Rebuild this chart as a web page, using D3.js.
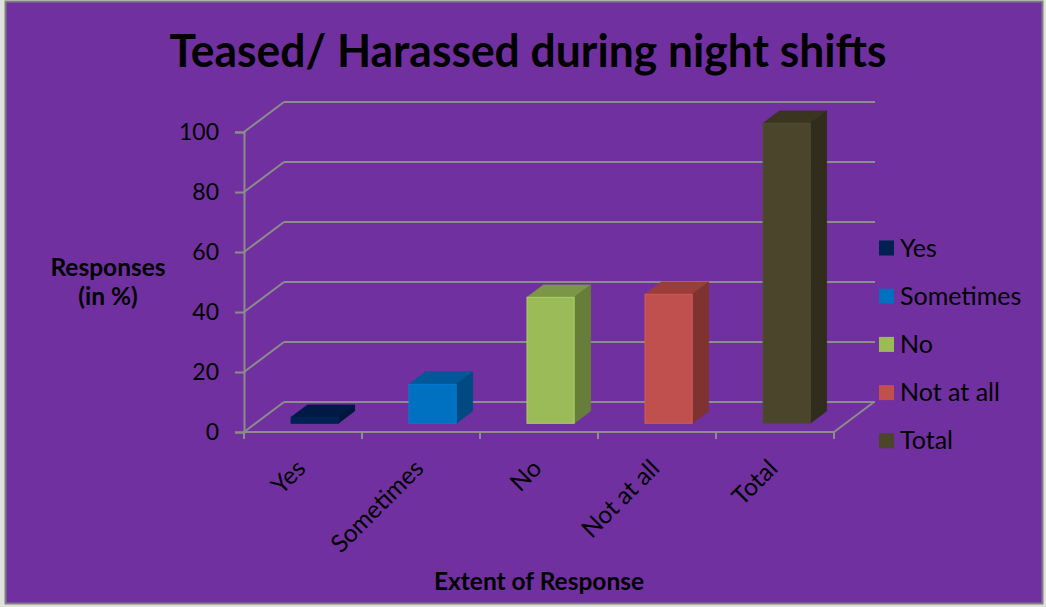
<!DOCTYPE html>
<html><head><meta charset="utf-8">
<script src="https://cdn.jsdelivr.net/npm/d3@7/dist/d3.min.js"></script>
<style>html,body{margin:0;padding:0;background:#dfe2dc;}svg{display:block;}</style>
</head><body>
<svg id="chart" width="1046" height="607"></svg>
<script>
// ---- data ----
const categories = ["Yes", "Sometimes", "No", "Not at all", "Total"];
const values = [2, 13, 42, 43, 100];
const yTicks = [0, 20, 40, 60, 80, 100];
const frontColors = ["#002152", "#0070C0", "#9BBB59", "#C0504D", "#4A452B"];
const topColors   = ["#001A45", "#005899", "#7A9646", "#9A3E3B", "#3A3521"];
const sideColors  = ["#00163A", "#004A82", "#677E3A", "#7E3331", "#302D1C"];
const titleText = "Teased/ Harassed during night shifts";
const yTitle = ["Responses", "(in %)"];
const xTitle = "Extent of Response";

const svg = d3.select("#chart");
const font = "Lato, 'Open Sans', sans-serif";
const gridColor = "#8c8c8c";

// background
svg.append("rect").attr("x", 5.5).attr("y", 1.5).attr("width", 1037).attr("height", 602)
  .attr("fill", "#7030A0").attr("stroke", "#7f7f7f").attr("stroke-width", 2);

// scales
const x = d3.scaleBand().domain(categories).range([244, 834]).paddingInner(0.6).paddingOuter(0.3);
const y = d3.scaleLinear().domain([0, 100]).range([432, 132]);
const depth = [40, -30];           // full depth vector of the floor/wall
const d1 = 0.29, d2 = 0.70;        // bar front/back depth fraction
const backRight = 875;

const g = svg.append("g");

// back-wall gridlines and left-wall diagonals
yTicks.forEach(v => {
  g.append("line").attr("x1", x.range()[0] + depth[0]).attr("x2", backRight)
    .attr("y1", y(v) + depth[1]).attr("y2", y(v) + depth[1])
    .attr("stroke", gridColor).attr("stroke-width", 2);
  g.append("line").attr("x1", x.range()[0]).attr("y1", y(v))
    .attr("x2", x.range()[0] + depth[0]).attr("y2", y(v) + depth[1])
    .attr("stroke", gridColor).attr("stroke-width", 2);
});
// floor front edge and right diagonal
g.append("line").attr("x1", x.range()[0]).attr("x2", x.range()[1]).attr("y1", y(0)).attr("y2", y(0))
  .attr("stroke", gridColor).attr("stroke-width", 2);
g.append("line").attr("x1", x.range()[1]).attr("y1", y(0))
  .attr("x2", x.range()[1] + depth[0]).attr("y2", y(0) + depth[1])
  .attr("stroke", gridColor).attr("stroke-width", 2);

// y axis
const yAxis = d3.axisLeft(y).tickValues(yTicks).tickSize(9).tickPadding(16);
const ya = svg.append("g").attr("transform", `translate(${x.range()[0]},0)`).call(yAxis);
ya.select(".domain").attr("stroke", gridColor).attr("stroke-width", 2);
ya.selectAll(".tick line").attr("stroke", gridColor).attr("stroke-width", 2);
ya.selectAll(".tick text").attr("fill", "#000").style("font-family", font).style("font-size", "23px");

// x axis ticks (between categories)
const bounds = d3.range(categories.length + 1).map(i => x.range()[0] + i * x.step());
g.selectAll(".xtick").data(bounds).enter().append("line")
  .attr("x1", d => d).attr("x2", d => d).attr("y1", y(0)).attr("y2", y(0) + 7)
  .attr("stroke", gridColor).attr("stroke-width", 2);

// bars
const bw = x.bandwidth();
const ddx = (d2 - d1) * depth[0], ddy = (d2 - d1) * depth[1];
const bars = svg.append("g").selectAll("g.bar").data(categories).enter().append("g");
bars.each(function(c, i) {
  const x0 = x(c) + d1 * depth[0];
  const yb = y(0) + d1 * depth[1];
  const yt = y(values[i]) + d1 * depth[1];
  const s = d3.select(this);
  s.append("polygon").attr("points", [[x0, yt], [x0 + bw, yt], [x0 + bw + ddx, yt + ddy], [x0 + ddx, yt + ddy]].join(" "))
    .attr("fill", topColors[i]).attr("stroke", topColors[i]).attr("stroke-width", 0.8);
  s.append("polygon").attr("points", [[x0 + bw, yt], [x0 + bw + ddx, yt + ddy], [x0 + bw + ddx, yb + ddy], [x0 + bw, yb]].join(" "))
    .attr("fill", sideColors[i]).attr("stroke", sideColors[i]).attr("stroke-width", 0.8);
  s.append("rect").attr("x", x0).attr("y", yt).attr("width", bw).attr("height", yb - yt)
    .attr("fill", frontColors[i]).attr("stroke", d3.color(frontColors[i]).brighter(0.3)).attr("stroke-width", 1);
});

// category labels
svg.append("g").selectAll("text").data(categories).enter().append("text")
  .attr("transform", c => `translate(${x(c) + bw / 2 + 4},${470}) rotate(-45)`)
  .attr("text-anchor", "end").style("font-family", font).style("font-size", "24.5px").attr("fill", "#000")
  .text(c => c);

// title
const t = svg.append("text").attr("x", 528).attr("y", 67).attr("text-anchor", "middle")
  .style("font-family", font).style("font-weight", "bold").style("font-size", "46px").attr("fill", "#000")
  .text(titleText);
t.attr("textLength", 717).attr("lengthAdjust", "spacingAndGlyphs");

// axis titles
svg.append("text").attr("x", 539).attr("y", 590).attr("text-anchor", "middle")
  .style("font-family", font).style("font-weight", "bold").style("font-size", "24.5px").attr("fill", "#000")
  .text(xTitle);
svg.append("g").selectAll("text").data(yTitle).enter().append("text")
  .attr("x", 108).attr("y", (d, i) => 276 + i * 29).attr("text-anchor", "middle")
  .style("font-family", font).style("font-weight", "bold").style("font-size", "24.5px").attr("fill", "#000")
  .text(d => d);

// legend
const leg = svg.append("g").selectAll("g").data(categories).enter().append("g")
  .attr("transform", (d, i) => `translate(879,${248 + i * 48.2})`);
leg.append("rect").attr("x", 0).attr("y", -7.5).attr("width", 15).attr("height", 15)
  .attr("fill", (d, i) => frontColors[i]);
leg.append("text").attr("x", 21).attr("y", 8.5).style("font-family", font).style("font-size", "25px")
  .attr("fill", "#000").text(d => d);
</script>
</body></html>
